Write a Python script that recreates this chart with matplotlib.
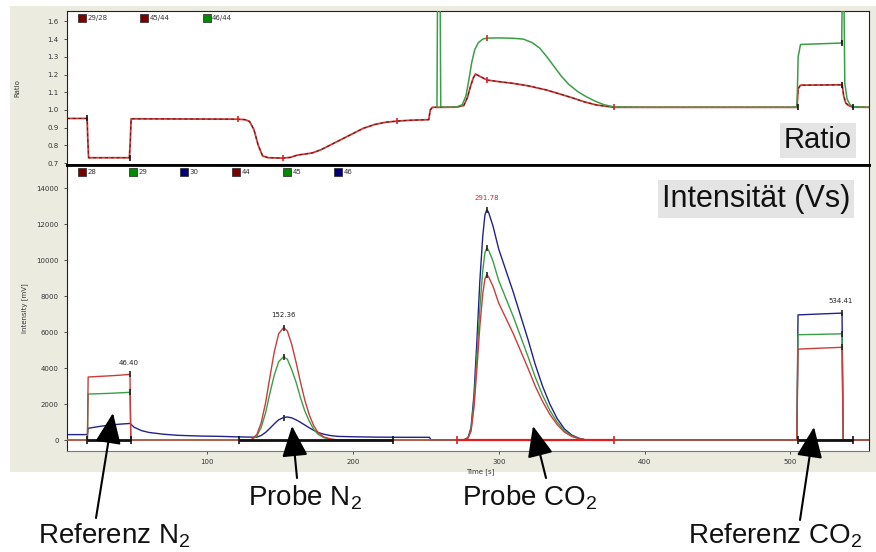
import matplotlib
matplotlib.use("Agg")
import matplotlib.pyplot as plt
from matplotlib import font_manager
from matplotlib.patches import Rectangle, FancyArrowPatch
from matplotlib.lines import Line2D

# ---------------- data ----------------
ratio_legend = ["29/28", "45/44", "46/44"]
intensity_legend = ["28", "29", "30", "44", "45", "46"]

# ratio traces 29/28 and 45/44 (overlapping in the picture)
ratio_t = [3.8, 17.6, 18.0, 18.6, 46.6, 47.2, 47.8, 121, 126, 129, 132, 135, 138, 142,
           152, 157, 162, 172, 178, 184, 190, 196, 202, 207, 215, 222, 230, 240, 252, 253,
           254.5, 262, 271, 276, 278.5, 280.5, 282.5, 284, 287, 292, 300, 310, 321, 333,
           342, 351, 359, 367, 379, 400, 450, 504.6, 505.4, 507, 535.6, 536.6, 538, 540,
           543, 554]
ratio_2928 = [0.952, 0.952, 0.85, 0.73, 0.73, 0.82, 0.95, 0.948, 0.945, 0.935, 0.89, 0.80,
              0.74, 0.73, 0.728, 0.732, 0.745, 0.757, 0.775, 0.80, 0.825, 0.85, 0.875, 0.896,
              0.918, 0.93, 0.937, 0.942, 0.945, 1.0, 1.015, 1.015, 1.016, 1.025, 1.07, 1.13,
              1.18, 1.203, 1.19, 1.169, 1.16, 1.15, 1.135, 1.112, 1.09, 1.067, 1.045, 1.028,
              1.015, 1.015, 1.015, 1.015, 1.12, 1.14, 1.142, 1.08, 1.04, 1.025, 1.016, 1.015]
ratio_4544 = list(ratio_2928)

ratio46_t = [257.6, 258.0, 259.8, 260.2, 262, 271, 275, 277.5, 279.5, 281.5, 283.5, 286,
             289, 292, 300, 310, 317, 323, 328, 333, 338, 343, 348, 354, 360, 366, 372, 379,
             400, 450, 504.6, 505.4, 507, 535.3, 535.6, 536.8, 537.4, 539, 541, 543, 554]
ratio_4644 = [1.015, 1.65, 1.65, 1.02, 1.015, 1.016, 1.03, 1.08, 1.17, 1.27, 1.34, 1.38,
              1.40, 1.406, 1.407, 1.405, 1.40, 1.38, 1.35, 1.30, 1.245, 1.19, 1.145, 1.105,
              1.075, 1.05, 1.03, 1.017, 1.015, 1.015, 1.015, 1.30, 1.37, 1.378, 1.65, 1.65,
              1.15, 1.06, 1.03, 1.018, 1.015]

# intensities, N2 part (masses 28, 29, 30)
n2_t = [3.8, 17.8, 18.3, 25, 32, 40, 47.0, 47.6, 50, 55, 60, 70, 80, 95, 110, 122, 130,
        134, 137, 140, 143, 146, 149, 152.4, 155, 158, 161, 164, 167, 170, 173, 176, 180,
        185, 190, 200, 215, 235, 252.5, 253.5]
int_28 = [0, 0, 3500, 3530, 3560, 3600, 3650, 0, 0, 0, 0, 0, 0, 0, 0, 0, 0,
          300, 950, 2050, 3500, 4900, 5900, 6250, 6050, 5300, 4300, 3200, 2200, 1400, 800,
          420, 170, 50, 0, 0, 0, 0, 0, 0]
int_29 = [0, 0, 2550, 2570, 2590, 2620, 2650, 0, 0, 0, 0, 0, 0, 0, 0, 0, 0,
          220, 700, 1500, 2600, 3600, 4350, 4630, 4480, 3900, 3200, 2350, 1600, 1050, 600,
          320, 130, 40, 0, 0, 0, 0, 0, 0]
int_30 = [300, 300, 650, 740, 820, 880, 920, 880, 700, 520, 420, 320, 260, 220, 200, 170,
          160, 160, 250, 420, 650, 900, 1120, 1250, 1280, 1230, 1120, 980, 830, 680, 540,
          420, 320, 240, 200, 180, 160, 150, 150, 0]

# intensities, CO2 part (masses 44, 45, 46)
co2_t = [253.5, 276, 279, 281, 283, 285, 287, 289, 290.5, 291.8, 293, 296, 300, 305, 310,
         315, 320, 325, 330, 335, 340, 345, 350, 355, 360, 504.5, 505.3, 520, 535.5, 536.3,
         554]
int_44 = [0, 0, 110, 500, 1800, 3950, 6300, 8100, 8950, 9170, 9070, 8550, 7600, 6750, 5900,
          4950, 4000, 3000, 2150, 1430, 860, 440, 200, 70, 0, 0, 5050, 5100, 5150, 0, 0]
int_45 = [0, 0, 120, 580, 2100, 4600, 7300, 9400, 10400, 10670, 10550, 9950, 8850, 7850,
          6850, 5750, 4650, 3500, 2500, 1650, 1000, 520, 230, 80, 0, 0, 5850, 5870, 5900, 0, 0]
int_46 = [0, 0, 150, 700, 2500, 5500, 8800, 11300, 12500, 12800, 12650, 11900, 10600, 9400,
          8200, 6900, 5600, 4200, 3000, 2000, 1200, 620, 280, 100, 0, 0, 6950, 7000, 7050, 0, 0]

# integration windows
win_start = [17.5, 122, 271.5, 505]
win_end = [48.0, 227.5, 379, 543]

# peak times (labels)
peak_times = [46.40, 152.36, 291.78, 534.41]

# ---------------- style ----------------
W, H = 876, 552
names = {f.name for f in font_manager.fontManager.ttflist}
narrow = "Liberation Sans Narrow" in names
ann_font = "Liberation Sans Narrow" if narrow else "Liberation Sans"
ann_size = 23 if narrow else 20

plt.rcParams["font.family"] = ["DejaVu Sans"]
plt.rcParams["mathtext.fontset"] = "custom"
plt.rcParams["mathtext.rm"] = ann_font
plt.rcParams["mathtext.it"] = ann_font
plt.rcParams["mathtext.bf"] = ann_font

RED = "#cf3b3b"
DRED = "#5a1414"
GREEN = "#3a9e45"
BLUE = "#22228c"
LEG_RED = "#7d0000"
LEG_GREEN = "#008a00"
LEG_BLUE = "#00007d"
TICKC = "#333333"


def fx(x):
    return x / W


def fy(y):
    return 1 - y / H


fig = plt.figure(figsize=(W / 100, H / 100), dpi=100)
fig.patch.set_facecolor("white")
fig.patches.append(Rectangle((fx(10), fy(472)), (W - 10) / W, (472 - 6) / H,
                             transform=fig.transFigure, facecolor="#ecebe0",
                             edgecolor="none", zorder=-10))

ax1 = fig.add_axes([fx(67), fy(165), (869 - 67) / W, (165 - 11) / H])
ax2 = fig.add_axes([fx(67), fy(451), (869 - 67) / W, (451 - 165) / H])

for ax in (ax1, ax2):
    ax.set_facecolor("white")
    ax.set_xlim(3.8, 554)
    for s in ax.spines.values():
        s.set_linewidth(0.8)
        s.set_color("#222222")
    ax.tick_params(labelsize=5, colors=TICKC, length=2.5, width=0.6)

# ---- ratio panel ----
ax1.plot(ratio_t, ratio_2928, color=RED, lw=1.3, solid_capstyle="butt", zorder=2)
ax1.plot(ratio_t, ratio_4544, color=DRED, lw=0.7, dashes=(3, 3), zorder=3)
ax1.plot(ratio46_t, ratio_4644, color=GREEN, lw=1.1, zorder=4)
red_marks_t = [121, 152, 230, 292, 292, 379]
red_marks_v = [0.948, 0.728, 0.937, 1.406, 1.169, 1.017]
ax1.plot(red_marks_t, red_marks_v, ls="none", marker="|", ms=5, mew=1.2, color="#e02020",
         zorder=5)
blk_marks_t = [17.6, 47.0, 505, 535.5, 535.5, 543]
blk_marks_v = [0.952, 0.73, 1.015, 1.378, 1.142, 1.016]
ax1.plot(blk_marks_t, blk_marks_v, ls="none", marker="|", ms=5, mew=1.2, color="#111111",
         zorder=5)
ax1.set_ylim(0.689, 1.559)
ax1.set_yticks([0.7, 0.8, 0.9, 1.0, 1.1, 1.2, 1.3, 1.4, 1.5])
ax1.set_yticklabels(["0.7", "0.8", "0.9", "1.0", "1.1", "1.2", "1.3", "1.4", "1.6"])
ax1.set_xticks([])
ax1.spines["bottom"].set_linewidth(2.0)
ax1.spines["bottom"].set_color("black")
ax1.set_ylabel("Ratio", fontsize=5, color=TICKC)
ax1.yaxis.set_label_coords((20 - 67) / 802, 0.5)

h1 = [Line2D([], [], ls="none", marker="s", ms=6, mfc=c, mec="#222222", mew=0.5)
      for c in (LEG_RED, LEG_RED, LEG_GREEN)]
leg1 = ax1.legend(h1, ratio_legend, loc="upper left", bbox_to_anchor=(0.009, 1.0), ncol=3,
                  frameon=False, fontsize=5, handlelength=1.0, handletextpad=0.3,
                  columnspacing=4.8, borderpad=0.6, borderaxespad=0)
for t in leg1.get_texts():
    t.set_color(TICKC)

# ---- intensity panel ----
ax2.plot(n2_t, int_30, color=BLUE, lw=1.0, zorder=2)
ax2.plot(n2_t, int_29, color=GREEN, lw=1.0, zorder=3)
ax2.plot(n2_t, int_28, color=RED, lw=1.0, zorder=4)
ax2.plot(co2_t, int_46, color=BLUE, lw=1.0, zorder=2)
ax2.plot(co2_t, int_45, color=GREEN, lw=1.0, zorder=3)
ax2.plot(co2_t, int_44, color=RED, lw=1.0, zorder=4)
ax2.plot([co2_t[0], co2_t[-1]], [0, 0], color="#a9a9e6", lw=1.4, zorder=1.5)

for s, e, c in zip(win_start, win_end, ["#111111", "#111111", "#e02020", "#111111"]):
    ax2.plot([s, e], [0, 0], color=c, lw=2.0 if c != "#e02020" else 1.6, zorder=6,
             solid_capstyle="butt")
    ax2.plot([s, e], [0, 0], ls="none", marker="|", ms=6, mew=1.2, color=c, zorder=6)

# peak markers
pk_mark_t = [47.0, 47.0, 152.4, 152.4, 152.4, 291.8, 291.8, 291.8, 535.5, 535.5, 535.5]
pk_mark_v = [3650, 2650, 6250, 4630, 1250, 12800, 10670, 9170, 7050, 5900, 5150]
ax2.plot(pk_mark_t, pk_mark_v, ls="none", marker="|", ms=4, mew=1.2, color="#222222",
         zorder=7)

label_y = [4300, 6950, 13450, 7700]
label_c = ["#222222", "#222222", "#e02020", "#222222"]
for pt, ly, lc in zip(peak_times, label_y, label_c):
    ax2.text(pt, ly, f"{pt:.2f}", fontsize=5, color=lc, ha="center", va="center", zorder=8)

ax2.set_ylim(-611, 15278)
ax2.set_yticks(range(0, 14001, 2000))
ax2.set_xticks([100, 200, 300, 400, 500])
ax2.spines["top"].set_linewidth(2.0)
ax2.spines["top"].set_color("black")
ax2.spines["bottom"].set_color("#777777")
ax2.set_ylabel("Intensity [mV]", fontsize=5, color=TICKC)
ax2.yaxis.set_label_coords((28 - 67) / 802, 0.5)
ax2.set_xlabel("Time [s]", fontsize=5, color=TICKC)
ax2.xaxis.set_label_coords((480 - 67) / 802, -(468 - 451) / 286)

h2 = [Line2D([], [], ls="none", marker="s", ms=6, mfc=c, mec="#222222", mew=0.5)
      for c in (LEG_RED, LEG_GREEN, LEG_BLUE, LEG_RED, LEG_GREEN, LEG_BLUE)]
leg2 = ax2.legend(h2, intensity_legend, loc="upper left", bbox_to_anchor=(0.009, 1.0),
                  ncol=6, frameon=False, fontsize=5, handlelength=1.0, handletextpad=0.3,
                  columnspacing=4.8, borderpad=0.6, borderaxespad=0)
for t in leg2.get_texts():
    t.set_color(TICKC)

# ---- overlay boxes ----
fig.text(fx(818), fy(140), "Ratio", ha="center", va="center", fontsize=21,
         family="Liberation Sans", color="#111111",
         bbox=dict(boxstyle="square,pad=0.12", fc="#e4e4e4", ec="none"), zorder=10)
fig.text(fx(756), fy(199), "Intensität (Vs)", ha="center", va="center", fontsize=22,
         family="Liberation Sans", color="#111111",
         bbox=dict(boxstyle="square,pad=0.12", fc="#e4e4e4", ec="none"), zorder=10)

# ---- annotations with arrows ----
ann = [
    (r"Referenz N$_{\mathrm{2}}$", 38, 543, (96, 518), (113, 413)),
    (r"Probe N$_{\mathrm{2}}$", 248, 506, (297, 478), (292, 426)),
    (r"Probe CO$_{\mathrm{2}}$", 462, 506, (546, 478), (533, 426)),
    (r"Referenz CO$_{\mathrm{2}}$", 688, 543, (800, 520), (814, 427)),
]
for txt, tx, ty, tail, head in ann:
    fig.text(fx(tx), fy(ty), txt, ha="left", va="baseline", fontsize=ann_size,
             family=ann_font, color="#111111", zorder=10)
    arr = FancyArrowPatch((fx(tail[0]), fy(tail[1])), (fx(head[0]), fy(head[1])),
                          transform=fig.transFigure,
                          arrowstyle="-|>,head_length=1.0,head_width=0.42",
                          mutation_scale=19, color="black", lw=1.5,
                          shrinkA=0, shrinkB=0, zorder=9)
    fig.add_artist(arr)

fig.savefig("out.png", dpi=100, facecolor="white")
